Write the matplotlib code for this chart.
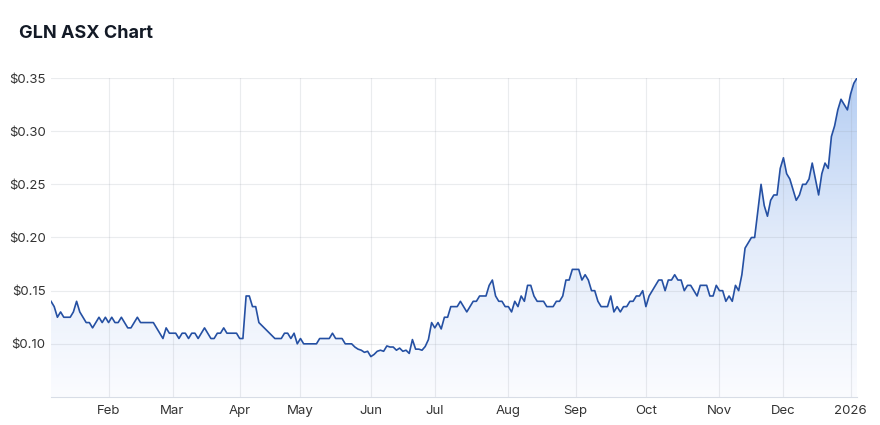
import numpy as np
import matplotlib
matplotlib.use('Agg')
import matplotlib.pyplot as plt
from matplotlib.colors import LinearSegmentedColormap

plt.rcParams['font.family'] = ['Inter', 'DejaVu Sans']

# closing prices per trading day, grouped by month
jan25 = [0.14, 0.135, 0.125, 0.13, 0.125, 0.125, 0.125, 0.13, 0.14, 0.13,
         0.125, 0.12, 0.12, 0.115, 0.12, 0.125, 0.12, 0.125]
feb25 = [0.12, 0.125, 0.12, 0.12, 0.125, 0.12, 0.115, 0.115, 0.12, 0.125,
         0.12, 0.12, 0.12, 0.12, 0.12, 0.115, 0.11, 0.105, 0.115, 0.11]
mar25 = [0.11, 0.11, 0.105, 0.11, 0.11, 0.105, 0.11, 0.11, 0.105, 0.11,
         0.115, 0.11, 0.105, 0.105, 0.11, 0.11, 0.115, 0.11, 0.11, 0.11, 0.11]
apr25 = [0.105, 0.105, 0.145, 0.145, 0.135, 0.135, 0.12, 0.117, 0.114, 0.111,
         0.108, 0.105, 0.105, 0.105, 0.11, 0.11, 0.105, 0.11, 0.10]
may25 = [0.105, 0.10, 0.10, 0.10, 0.10, 0.10, 0.105, 0.105, 0.105, 0.105,
         0.11, 0.105, 0.105, 0.105, 0.10, 0.10, 0.10, 0.097, 0.095, 0.094,
         0.092, 0.093]
jun25 = [0.088, 0.09, 0.093, 0.094, 0.093, 0.098, 0.097, 0.097, 0.094, 0.096,
         0.093, 0.094, 0.091, 0.104, 0.095, 0.095, 0.094, 0.0975, 0.104, 0.12]
jul25 = [0.115, 0.12, 0.114, 0.125, 0.125, 0.135, 0.135, 0.135, 0.14, 0.135,
         0.13, 0.135, 0.14, 0.14, 0.145, 0.145, 0.145, 0.155, 0.16, 0.145,
         0.14, 0.14, 0.135]
aug25 = [0.135, 0.13, 0.14, 0.135, 0.145, 0.14, 0.155, 0.155, 0.145, 0.14,
         0.14, 0.14, 0.135, 0.135, 0.135, 0.14, 0.14, 0.145, 0.16, 0.16, 0.17]
sep25 = [0.17, 0.17, 0.16, 0.165, 0.16, 0.15, 0.15, 0.14, 0.135, 0.135,
         0.135, 0.145, 0.13, 0.135, 0.13, 0.135, 0.135, 0.14, 0.14, 0.145,
         0.145, 0.15]
oct25 = [0.135, 0.145, 0.15, 0.155, 0.16, 0.16, 0.15, 0.16, 0.16, 0.165,
         0.16, 0.16, 0.15, 0.155, 0.155, 0.15, 0.145, 0.155, 0.155, 0.155,
         0.145, 0.145, 0.155]
nov25 = [0.15, 0.15, 0.14, 0.145, 0.14, 0.155, 0.15, 0.165, 0.19, 0.195,
         0.20, 0.20, 0.225, 0.25, 0.23, 0.22, 0.235, 0.24, 0.24, 0.265]
dec25 = [0.275, 0.26, 0.255, 0.245, 0.235, 0.24, 0.25, 0.25, 0.255, 0.27,
         0.255, 0.24, 0.26, 0.27, 0.265, 0.295, 0.305, 0.32, 0.33, 0.325, 0.32]
jan26 = [0.335, 0.345, 0.35]

months = [jan25, feb25, mar25, apr25, may25, jun25, jul25, aug25, sep25,
          oct25, nov25, dec25, jan26]
month_labels = ['', 'Feb', 'Mar', 'Apr', 'May', 'Jun', 'Jul', 'Aug', 'Sep',
                'Oct', 'Nov', 'Dec', '2026']
y_ticks = [0.10, 0.15, 0.20, 0.25, 0.30, 0.35]

prices = np.concatenate(months)
x = np.arange(len(prices))
month_starts = np.cumsum([0] + [len(m) for m in months[:-1]])

fig = plt.figure(figsize=(8.8, 4.25), dpi=100)
ax = fig.add_axes([51 / 880, 1 - 397 / 425, 806 / 880, 319 / 425])

ymin, ymax = 0.05, 0.35
ax.set_xlim(0, len(prices) - 1)
ax.set_ylim(ymin, ymax)

# gradient fill under the line
cmap = LinearSegmentedColormap.from_list('fill', ['#fbfcff', '#e2ebfa', '#b5cef3'])
grad = np.linspace(0, 1, 256).reshape(-1, 1)
im = ax.imshow(grad, aspect='auto', cmap=cmap, origin='lower',
               extent=[0, len(prices) - 1, ymin, ymax], zorder=1)
poly = ax.fill_between(x, prices, ymin, color='none', lw=0)
im.set_clip_path(poly.get_paths()[0], transform=ax.transData)

ax.plot(x, prices, color='#2550a3', lw=1.2, zorder=3)

# grid and axes (grid shows through the fill)
ax.set_yticks(y_ticks)
ax.set_yticklabels(['$%.2f' % v for v in y_ticks])
ax.set_xticks(month_starts[1:])
ax.set_xticklabels(month_labels[1:])
ax.grid(True, color='#9aa0aa', alpha=0.2, lw=0.8, zorder=2)
for s in ['top', 'right', 'left']:
    ax.spines[s].set_visible(False)
ax.spines['bottom'].set_color('#d8dde6')
ax.tick_params(length=0, labelsize=9.5, colors='#333333')
ax.tick_params(axis='x', pad=6)
ax.tick_params(axis='y', pad=4)

fig.text(19 / 880, 1 - 33 / 425, 'GLN ASX Chart', fontsize=13, fontweight='bold',
         color='#131a26', va='center', ha='left')

fig.savefig('out.png', dpi=100)
